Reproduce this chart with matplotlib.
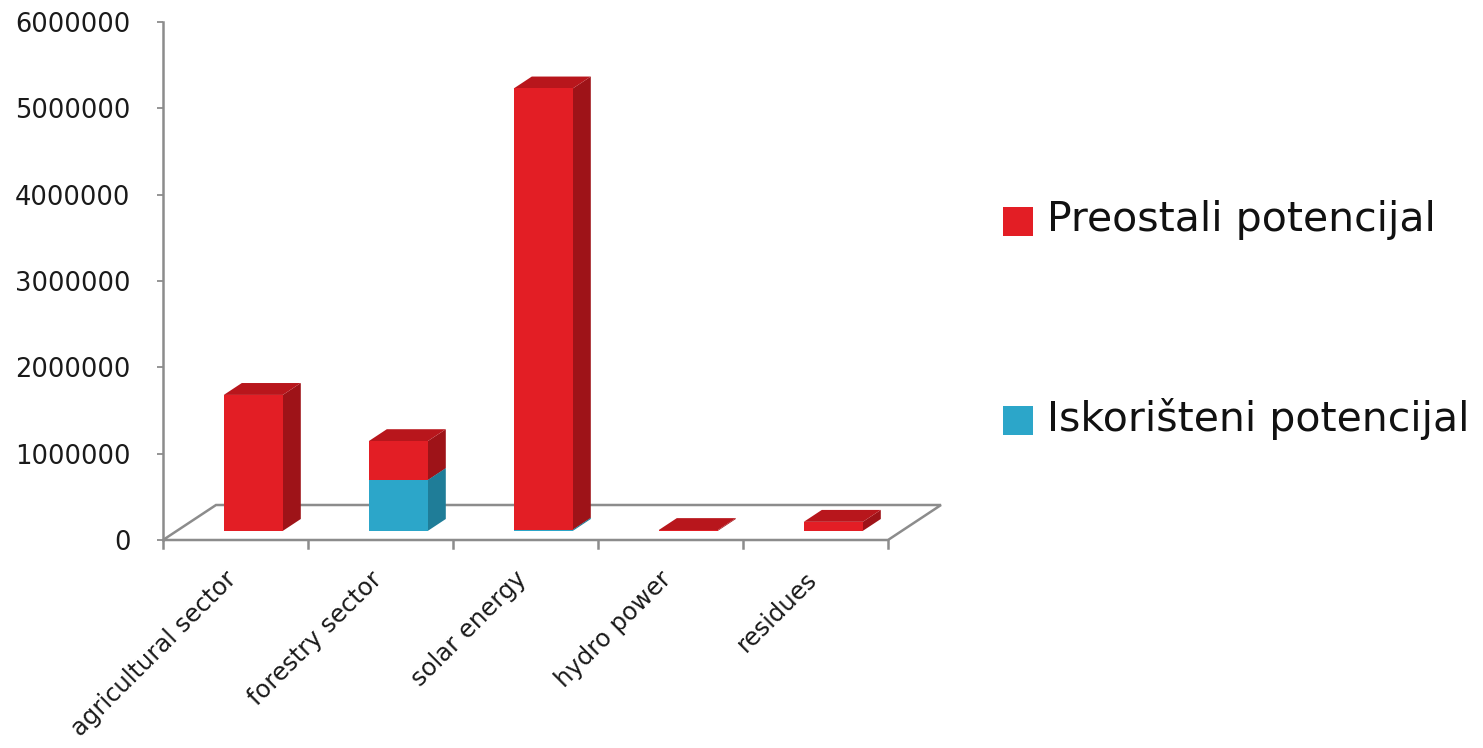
import matplotlib
matplotlib.use("Agg")
import matplotlib.pyplot as plt
from matplotlib.patches import Polygon, Rectangle

plt.rcParams['font.family'] = ['DejaVu Sans']

# potential per source
categories = ['agricultural sector', 'forestry sector', 'solar energy', 'hydro power', 'residues']
iskoristeni = [0, 590000, 15000, 0, 0]              # used potential
preostali = [1575000, 450000, 5110000, 10000, 105000]  # remaining potential
yticks = [0, 1000000, 2000000, 3000000, 4000000, 5000000, 6000000]

series = [('Iskorišteni potencijal', iskoristeni, ('#2ca6c9', '#1f7d98', '#2591b0')),
          ('Preostali potencijal', preostali, ('#e31e25', '#9e1318', '#b8161c'))]

W, H = 1483, 748
fig = plt.figure(figsize=(W / 100, H / 100), dpi=100)
ax = fig.add_axes([163 / W, (H - 540) / H, 725 / W, 518 / H])
ax.set_xlim(0, len(categories))
ax.set_ylim(0, 6000000)

# pixel -> data helpers for the fake 3d depth
px_x = len(categories) / 725.0
px_y = 6000000 / 518.0
floor_dx, floor_dy = 53 * px_x, 35 * px_y
gray = '#8c8c8c'

# floor
n = len(categories)
ax.add_patch(Polygon([(0, 0), (n, 0), (n + floor_dx, floor_dy), (floor_dx, floor_dy)],
                     closed=True, facecolor='white', edgecolor=gray, lw=1.8, clip_on=False, zorder=1))
for i in range(n + 1):
    ax.plot([i, i], [0, -8 * px_y], color=gray, lw=1.8, clip_on=False, zorder=1)

# bars: front face, right side and top
f0, f1 = 0.26, 0.60
bx0, by0 = f0 * floor_dx, f0 * floor_dy
ddx, ddy = (f1 - f0) * floor_dx, (f1 - f0) * floor_dy
for i in range(n):
    x0 = i + 47 * px_x + bx0
    x1 = x0 + 59 * px_x
    base = by0
    for name, vals, (c_front, c_side, c_top) in series:
        v = vals[i]
        if v <= 0:
            continue
        lo, hi = base, base + v
        ax.add_patch(Polygon([(x1, lo), (x1 + ddx, lo + ddy), (x1 + ddx, hi + ddy), (x1, hi)],
                             closed=True, facecolor=c_side, edgecolor='none', zorder=2, clip_on=False))
        ax.add_patch(Polygon([(x0, hi), (x1, hi), (x1 + ddx, hi + ddy), (x0 + ddx, hi + ddy)],
                             closed=True, facecolor=c_top, edgecolor='none', zorder=2, clip_on=False))
        ax.add_patch(Rectangle((x0, lo), x1 - x0, hi - lo, facecolor=c_front,
                               edgecolor='none', zorder=2, clip_on=False))
        base = hi

# y axis
for s in ['top', 'right', 'bottom']:
    ax.spines[s].set_visible(False)
ax.spines['left'].set_color(gray)
ax.spines['left'].set_linewidth(1.8)
ax.set_yticks(yticks)
ax.set_yticklabels([str(t) for t in yticks], fontsize=18.5, color='#1a1a1a')
ax.tick_params(axis='y', length=4.5, width=1.3, color=gray, pad=19)
ax.set_xticks([])

# category labels, rotated
for i, c in enumerate(categories):
    ax.text(i + 0.5 + 6 * px_x, -27 * px_y, c, rotation=45, ha='right', va='top',
            fontsize=17.5, color='#1a1a1a', clip_on=False)

# legend
lg = fig.add_axes([0, 0, 1, 1])
lg.set_xlim(0, W)
lg.set_ylim(H, 0)
lg.axis('off')
for (name, vals, cols), ytop in zip(series[::-1], [207, 406]):
    lg.add_patch(Rectangle((1003, ytop), 30, 29, facecolor=cols[0], edgecolor='none'))
    lg.text(1047, ytop + 13, name, fontsize=29.5, va='center', ha='left', color='#111111')

fig.savefig('out.png', dpi=100)
